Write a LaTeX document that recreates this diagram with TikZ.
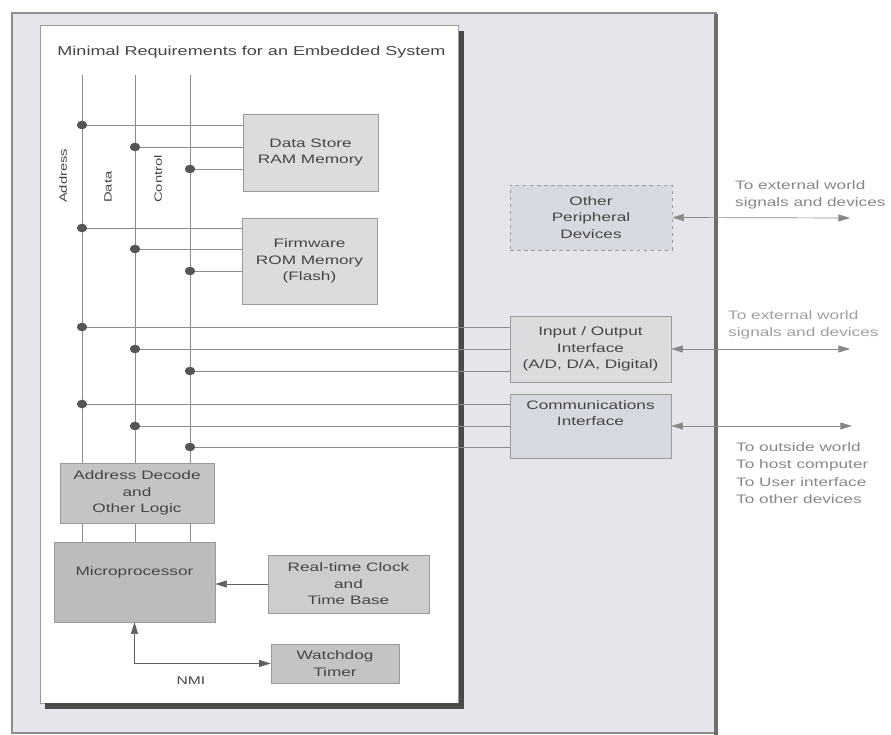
\documentclass[tikz,border=0pt]{standalone}
\usepackage{fontspec}
\setmainfont{Liberation Sans}[FakeStretch=1.4]
\usetikzlibrary{arrows.meta,shapes.geometric}

\definecolor{framefill}{HTML}{E4E6EC}
\definecolor{framegray}{HTML}{8E8E8E}
\definecolor{framedark}{HTML}{6E6E6E}
\definecolor{shadowgray}{HTML}{4A4A4A}
\definecolor{boxfill}{HTML}{DCDCDE}
\definecolor{darkfill}{HTML}{C4C4C6}
\definecolor{cpufill}{HTML}{BCBCBE}
\definecolor{periphfill}{HTML}{D6D9E0}
\definecolor{boxline}{HTML}{9A9A9A}
\definecolor{linegray}{HTML}{8C8C8C}
\definecolor{dotgray}{HTML}{555555}
\definecolor{arrowgray}{HTML}{606060}
\definecolor{textgray}{HTML}{454545}
\definecolor{pale}{HTML}{888888}
\definecolor{paler}{HTML}{A0A0A0}

\begin{document}
\begin{tikzpicture}[x=0.03cm, y=-0.03cm,
  box/.style={draw=boxline, fill=boxfill, text=textgray, align=center, inner sep=0pt, font=\fontsize{10.5}{14}\selectfont},
  darkbox/.style={box, fill=darkfill},
  dot/.style={ellipse, fill=dotgray, inner sep=0pt, minimum width=0.31cm, minimum height=0.26cm},
  bus/.style={draw=linegray, line width=0.6pt},
  tip/.style={-{Triangle[length=10pt,width=6pt]}},
  twotip/.style={{Triangle[length=10pt,width=6pt]}-{Triangle[length=10pt,width=6pt]}},
  outside/.style={text=pale, align=left, anchor=west, inner sep=0pt, font=\fontsize{10.5}{14.7}\selectfont}]

\useasboundingbox (0,0) rectangle (891,735);
\fill[white] (0,0) rectangle (891,735);

% outer frame and inner panel
\filldraw[fill=framefill, draw=framegray, line width=1.2pt] (12,13) rectangle (716,733);
\draw[framedark, line width=2.8pt] (716,14) -- (716,735);
\filldraw[fill=white, draw=boxline, line width=0.6pt] (40,25) rectangle (458,703);
\draw[shadowgray, line width=5pt] (461.5,31) -- (461.5,706) -- (45,706);

\node[text=textgray, font=\fontsize{11}{13}\selectfont] (title) at (251.5,52) {Minimal Requirements for an Embedded System};

% bus labels
\node[rotate=90, anchor=west, text=textgray, font=\fontsize{9}{11}\selectfont] (addrlbl) at (63,207) {Address};
\node[rotate=90, anchor=west, text=textgray, font=\fontsize{9}{11}\selectfont] (datalbl) at (108,207) {Data};
\node[rotate=90, anchor=west, text=textgray, font=\fontsize{9}{11}\selectfont] (ctrllbl) at (158,207) {Control};

% blocks
\node[box, minimum width=4.05cm, minimum height=2.31cm] (ram) at (310.5,152.5) {Data Store\\RAM Memory};
\node[box, minimum width=4.05cm, minimum height=2.58cm] (rom) at (309.5,261) {Firmware\\ROM Memory\\(Flash)};
\node[box, dashed, fill=periphfill, minimum width=4.86cm, minimum height=1.95cm] (periph) at (591,217.5) {Other\\Peripheral\\Devices};
\node[box, minimum width=4.83cm, minimum height=1.98cm] (io) at (590.5,349) {Input / Output\\Interface\\(A/D, D/A, Digital)};
\node[box, fill=periphfill, minimum width=4.83cm, minimum height=1.92cm] (comm) at (590.5,426) {Communications\\Interface\\[8pt]~};
\node[darkbox, minimum width=4.62cm, minimum height=1.8cm] (decode) at (137,493) {Address Decode\\and\\Other Logic};
\node[darkbox, fill=cpufill, minimum width=4.83cm, minimum height=2.4cm] (cpu) at (134.5,582) {Microprocessor\\[4.8pt]~};
\node[darkbox, fill=darkfill!85!white, minimum width=4.83cm, minimum height=1.74cm] (rtc) at (348.5,584) {Real-time Clock\\and\\Time Base};
\node[darkbox, minimum width=3.84cm, minimum height=1.17cm] (wdog) at (335,663.5) {Watchdog\\Timer};

% buses
\coordinate (addr) at (82,75);
\coordinate (data) at (135,75);
\coordinate (ctrl) at (190,75);
\draw[bus] (addr) -- (addr |- decode.north);
\draw[bus] (data) -- (data |- decode.north);
\draw[bus] (ctrl) -- (ctrl |- decode.north);
\draw[bus] (addr |- decode.south) -- (addr |- cpu.north);
\draw[bus] (data |- decode.south) -- (data |- cpu.north);
\draw[bus] (ctrl |- decode.south) -- (ctrl |- cpu.north);

\foreach \tgt/\ya/\yd/\yc in {ram/125/147/169, rom/228/249/271, io/327/349/371, comm/404/426/447} {
  \node[dot] (a-\tgt) at (82,\ya) {};
  \node[dot] (d-\tgt) at (135,\yd) {};
  \node[dot] (c-\tgt) at (190,\yc) {};
  \draw[bus] (a-\tgt) -- (a-\tgt -| \tgt.west);
  \draw[bus] (d-\tgt) -- (d-\tgt -| \tgt.west);
  \draw[bus] (c-\tgt) -- (c-\tgt -| \tgt.west);
}

% clock and watchdog
\draw[arrowgray, line width=0.6pt, tip] (rtc.west) -- (rtc.west -| cpu.east);
\draw[arrowgray, line width=0.6pt, twotip] (cpu.south) -- (cpu.south |- wdog.west) -- (wdog.west);
\node[text=textgray, font=\fontsize{9.5}{11}\selectfont] (nmi) at (191,681) {NMI};

% outside connections
\coordinate (ext1) at (850,218);
\coordinate (ext2) at (850,349);
\coordinate (ext3) at (852,426);
\draw[pale, line width=0.6pt, twotip] (periph.east) -- (ext1);
\draw[pale, line width=0.6pt, twotip] (io.east) -- (ext2);
\draw[pale, line width=0.6pt, twotip] (comm.east) -- (ext3);
\node[outside] (lbl1) at (735,195) {To external world\\signals and devices};
\node[outside, text=paler] (lbl2) at (728,325) {To external world\\signals and devices};
\node[outside] (lbl3) at (736,473) {To outside world\\To host computer\\To User interface\\To other devices};
\end{tikzpicture}
\end{document}
